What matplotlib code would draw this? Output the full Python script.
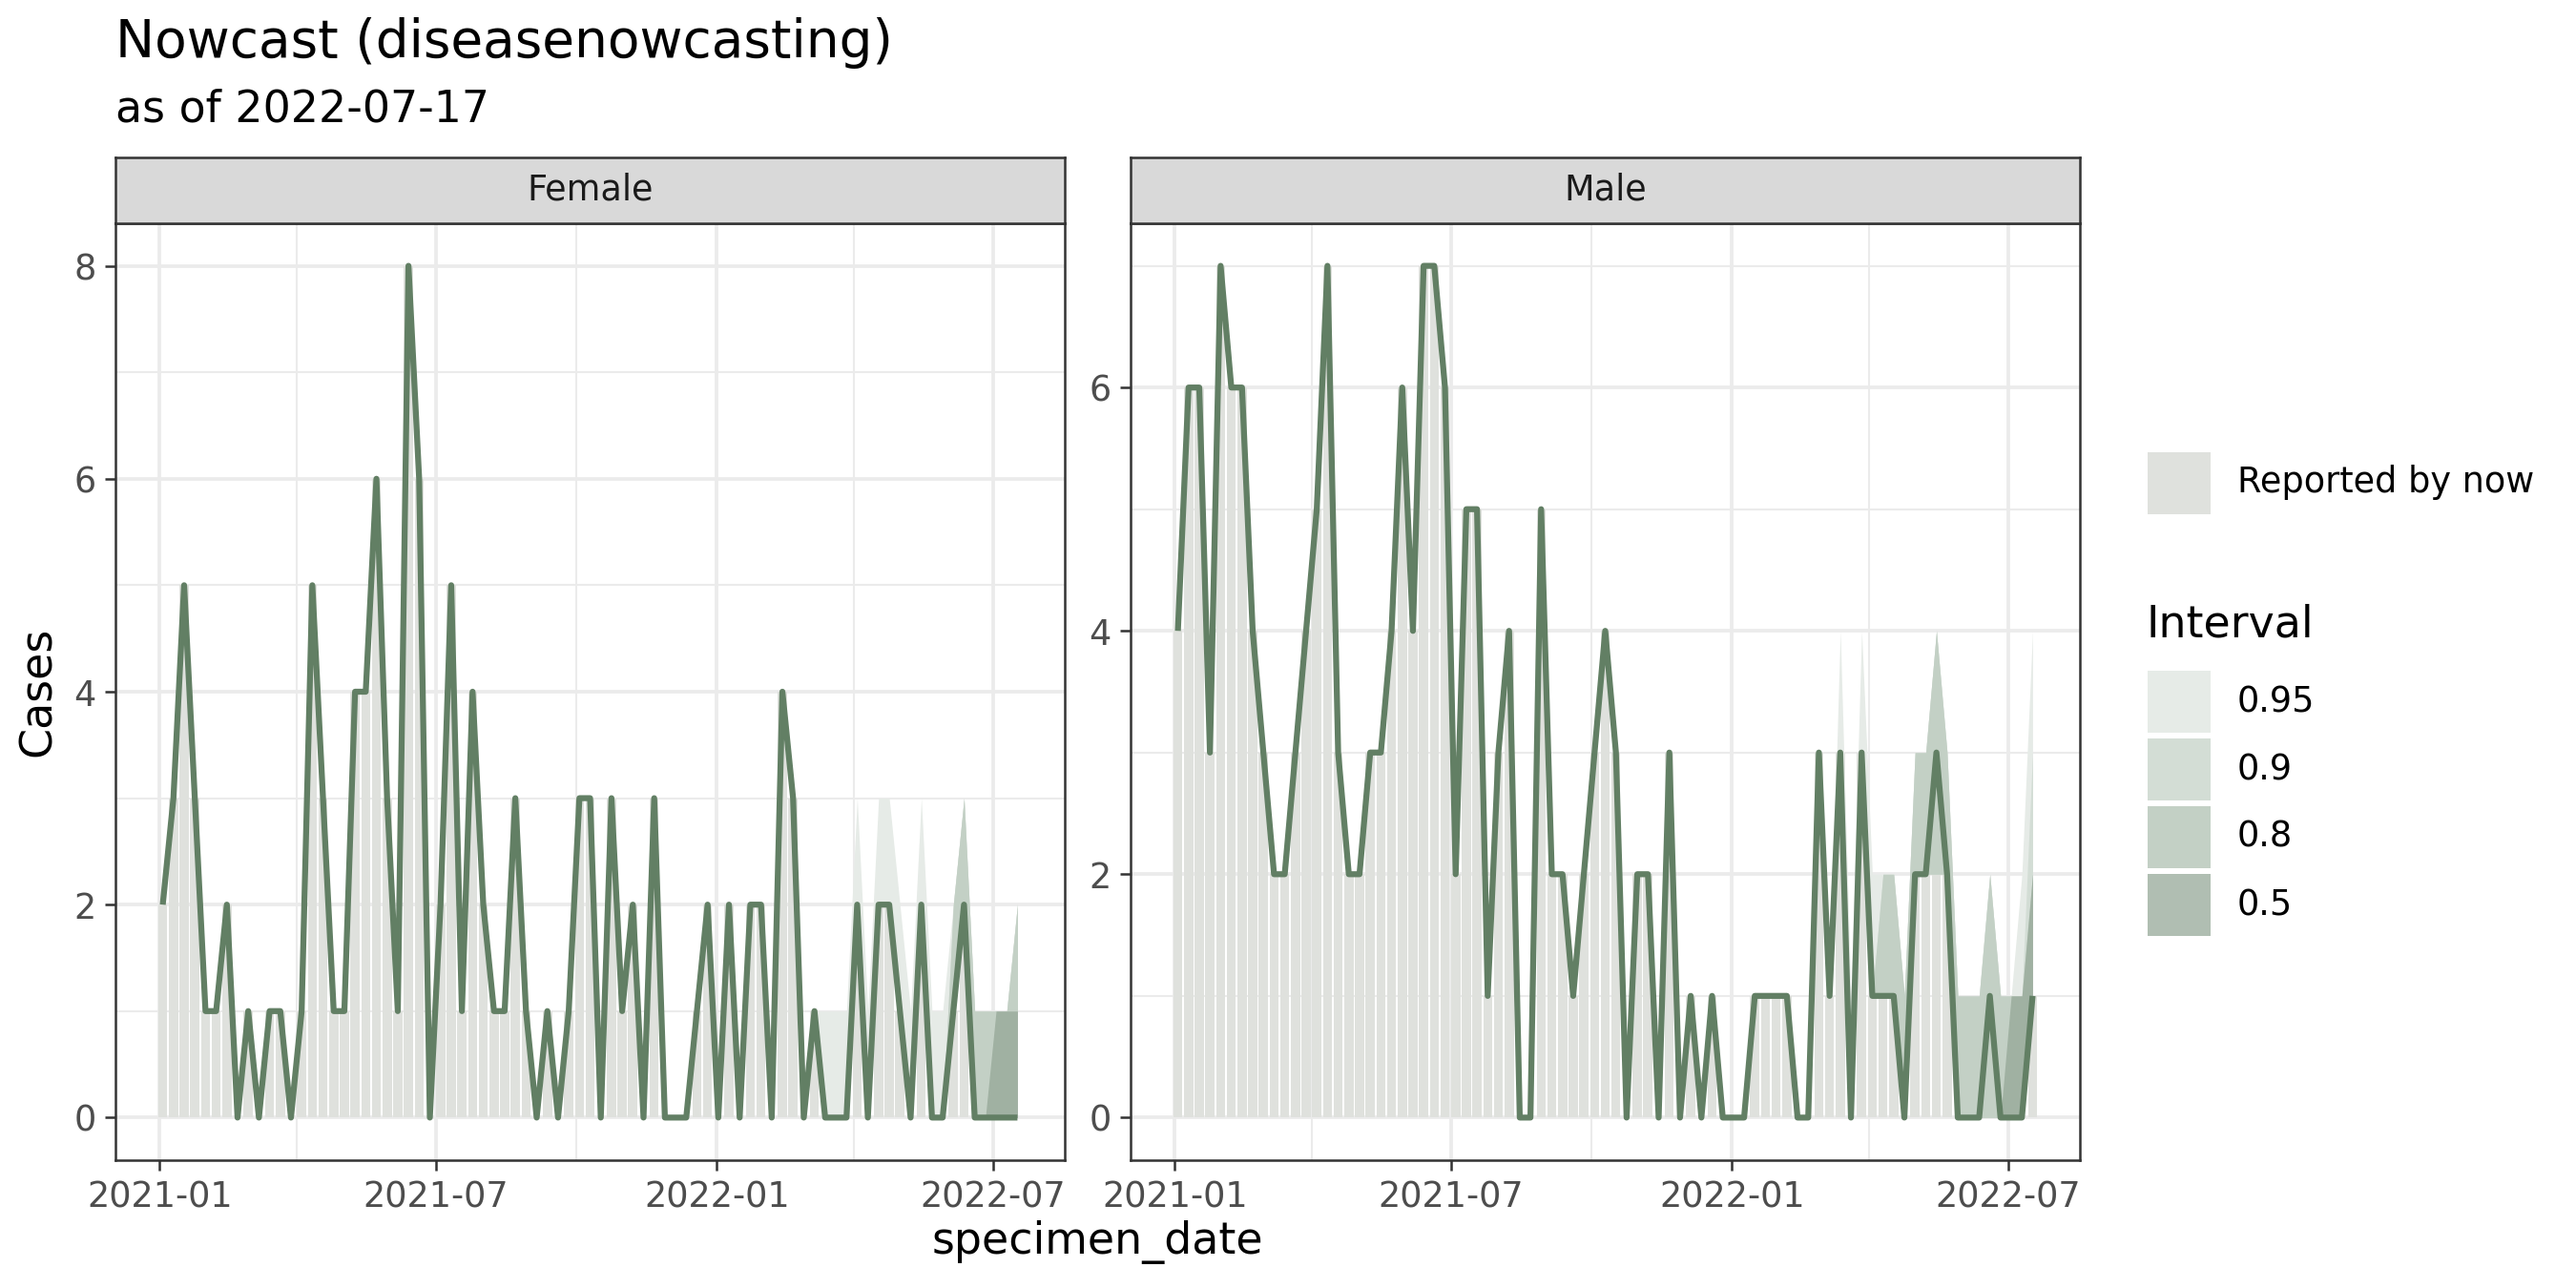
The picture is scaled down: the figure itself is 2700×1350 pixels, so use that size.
import matplotlib
matplotlib.use("Agg")
import matplotlib.pyplot as plt
import matplotlib.dates as mdates
from matplotlib.patches import Rectangle
import numpy as np
import pandas as pd

plt.rcParams['font.family'] = ['DejaVu Sans']

# weekly specimen dates (Sundays)
weeks = pd.date_range("2021-01-03", periods=81, freq="7D")

female_median = [2, 3, 5, 3, 1, 1, 2, 0, 1, 0, 1, 1, 0, 1, 5, 3, 1, 1, 4, 4, 6, 3, 1, 8, 6, 0, 2, 5, 1,
                 4, 2, 1, 1, 3, 1, 0, 1, 0, 1, 3, 3, 0, 3, 1, 2, 0, 3, 0, 0, 0, 1, 2, 0, 2, 0, 2, 2, 0,
                 4, 3, 0, 1, 0, 0, 0, 2, 0, 2, 2, 1, 0, 2, 0, 0, 1, 2, 0, 0, 0, 0, 0]
female_reported = [2, 3, 5, 3, 1, 1, 2, 0, 1, 0, 1, 1, 0, 1, 5, 3, 1, 1, 4, 4, 6, 3, 1, 8, 6, 0, 2, 5, 1,
                   4, 2, 1, 1, 3, 1, 0, 1, 0, 1, 3, 3, 0, 3, 1, 2, 0, 3, 0, 0, 0, 1, 2, 0, 2, 0, 2, 2, 0,
                   4, 3, 0, 1, 0, 0, 0, 2, 0, 2, 2, 1, 0, 2, 0, 0, 1, 2, 0, 0, 0, 0, 0]

male_median = [4, 6, 6, 3, 7, 6, 6, 4, 3, 2, 2, 3, 4, 5, 7, 3, 2, 2, 3, 3, 4, 6, 4, 7, 7, 6, 2, 5, 5, 1,
               3, 4, 0, 0, 5, 2, 2, 1, 2, 3, 4, 3, 0, 2, 2, 0, 3, 0, 1, 0, 1, 0, 0, 0, 1, 1, 1, 1,
               0, 0, 3, 1, 3, 0, 3, 1, 1, 1, 0, 2, 2, 3, 2, 0, 0, 0, 1, 0, 0, 0, 1]
male_reported = [4, 6, 6, 3, 7, 6, 6, 4, 3, 2, 2, 3, 4, 5, 7, 3, 2, 2, 3, 3, 4, 6, 4, 7, 7, 6, 2, 5, 5, 1,
                 3, 4, 0, 0, 5, 2, 2, 1, 2, 3, 4, 3, 0, 2, 2, 0, 3, 0, 1, 0, 1, 0, 0, 0, 1, 1, 1, 1,
                 0, 0, 3, 1, 3, 0, 3, 1, 1, 1, 0, 2, 2, 2, 2, 0, 0, 0, 0, 0, 0, 0, 1]

# upper bounds of the prediction intervals for the last 20 weeks
nowcast_from = 61
female_up95 = [1, 1, 1, 1, 3, 1, 3, 3, 2, 1, 3, 1, 1, 2, 3, 1, 1, 1, 1, 2]
female_up90 = [1, 0, 0, 0, 2, 0, 2, 2, 1, 0, 2, 0, 0, 2, 3, 1, 1, 1, 1, 2]
female_up80 = [1, 0, 0, 0, 2, 0, 2, 2, 1, 0, 2, 0, 0, 2, 3, 1, 1, 1, 1, 2]
female_up50 = [1, 0, 0, 0, 2, 0, 2, 2, 1, 0, 2, 0, 0, 1, 2, 0, 0, 1, 1, 1]

male_up95 = [1, 4, 1, 4, 2, 2, 2, 1, 3, 3, 4, 3, 1, 1, 1, 2, 1, 1, 2, 4]
male_up90 = [1, 3, 0, 3, 1, 2, 2, 1, 3, 3, 4, 3, 1, 1, 1, 2, 1, 1, 1, 3]
male_up80 = [1, 3, 0, 3, 1, 2, 2, 1, 3, 3, 4, 3, 1, 1, 1, 2, 1, 1, 1, 2]
male_up50 = [1, 3, 0, 3, 1, 1, 1, 0, 2, 2, 2, 2, 0, 0, 0, 0, 0, 1, 1, 2]

interval_labels = ["0.95", "0.9", "0.8", "0.5"]
ribbon_colors = ["#e6ebe7", "#d3ddd5", "#c3d0c5", "#a0b1a2"]
legend_colors = ["#e6ebe7", "#d3ddd5", "#c3d0c5", "#b0beb2"]
bar_color = "#dfe1dd"
line_color = "#627f64"
grid_color = "#ebebeb"
border_color = "#333333"

x = mdates.date2num(weeks)
xlim = mdates.date2num(pd.to_datetime(["2020-12-03", "2022-08-17"]))

fig = plt.figure(figsize=(9, 4.5), dpi=300)

W, H = 2700, 1350
ax_w = 995 / W
ax_b = 1 - 1216 / H
ax_h = (1216 - 234) / H
strip_h = 69 / H


def draw_panel(left, name, median, reported, uppers, ymax):
    ax = fig.add_axes([left, ax_b, ax_w, ax_h])
    strip = fig.add_axes([left, ax_b + ax_h, ax_w, strip_h])

    ax.bar(x, reported, width=6, color=bar_color, linewidth=0, zorder=1)
    xs = x[nowcast_from:]
    lo = reported[nowcast_from:]
    for up, col in zip(uppers, ribbon_colors):
        ax.fill_between(xs, lo, up, color=col, linewidth=0, zorder=2)
    ax.plot(x, median, color=line_color, linewidth=1.5,
            solid_joinstyle="round", solid_capstyle="butt", zorder=3)

    ax.set_xlim(xlim)
    ax.set_ylim(-0.05 * ymax, ymax * 1.05)
    ax.set_xticks(mdates.date2num(pd.to_datetime(["2021-01-01", "2021-07-01", "2022-01-01", "2022-07-01"])))
    ax.set_xticks(mdates.date2num(pd.to_datetime(["2021-04-01", "2021-10-01", "2022-04-01"])), minor=True)
    ax.xaxis.set_major_formatter(mdates.DateFormatter("%Y-%m"))
    ax.set_yticks(range(0, ymax + 1, 2))
    ax.set_yticks(range(1, ymax + 1, 2), minor=True)

    ax.grid(which="major", color=grid_color, linewidth=0.9, zorder=0)
    ax.grid(which="minor", color=grid_color, linewidth=0.5, zorder=0)
    ax.set_axisbelow(True)
    ax.tick_params(which="major", length=2.75, width=0.6, color=border_color,
                   labelsize=8.8, labelcolor="#4d4d4d", pad=2.2)
    ax.tick_params(which="minor", length=0)
    for s in ax.spines.values():
        s.set_color(border_color)
        s.set_linewidth(0.6)
        s.set_zorder(5)

    strip.set_facecolor("#d9d9d9")
    strip.set_xticks([])
    strip.set_yticks([])
    for s in strip.spines.values():
        s.set_color(border_color)
        s.set_linewidth(0.6)
    strip.text(0.5, 0.5, name, ha="center", va="center", fontsize=8.8, color="#1a1a1a",
               transform=strip.transAxes)
    return ax


draw_panel(121 / W, "Female", female_median, female_reported,
           [female_up95, female_up90, female_up80, female_up50], 8)
draw_panel(1185 / W, "Male", male_median, male_reported,
           [male_up95, male_up90, male_up80, male_up50], 7)

# titles and axis labels
fig.text(121 / W, 1 - 60 / H, "Nowcast (diseasenowcasting)", fontsize=13.2, va="baseline", ha="left")
fig.text(121 / W, 1 - 128 / H, "as of 2022-07-17", fontsize=11, va="baseline", ha="left")
fig.text(40 / W, 1 - 725 / H, "Cases", fontsize=11, rotation=90, ha="center", va="center")
fig.text(1150 / W, 1 - 1302 / H, "specimen_date", fontsize=11, ha="center", va="center")

# legend
kx, kw = 2251 / W, 66 / W
tx = 2345 / W
fig.add_artist(Rectangle((kx, 1 - 539 / H), kw, 65 / H, transform=fig.transFigure,
                         facecolor=bar_color, edgecolor="none"))
fig.text(tx, 1 - 506 / H, "Reported by now", fontsize=8.8, va="center", ha="left")
fig.text(2250 / W, 1 - 655 / H, "Interval", fontsize=11, va="center", ha="left")
for i, (lab, col) in enumerate(zip(interval_labels, legend_colors)):
    top = 703 + i * 71
    fig.add_artist(Rectangle((kx, 1 - (top + 65) / H), kw, 65 / H, transform=fig.transFigure,
                             facecolor=col, edgecolor="none"))
    fig.text(tx, 1 - (top + 32.5) / H, lab, fontsize=8.8, va="center", ha="left")

fig.savefig("out.png", dpi=300)
